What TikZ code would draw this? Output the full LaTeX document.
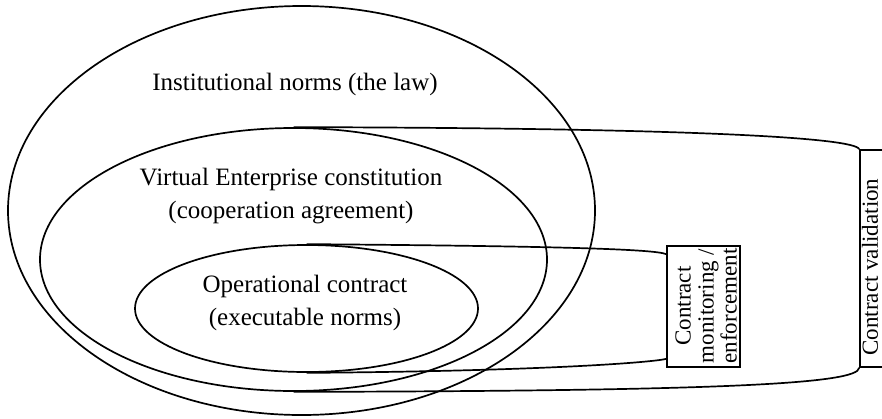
\documentclass[tikz,border=0pt]{standalone}
\usepackage{fontspec}
\setmainfont{Liberation Serif}
\usetikzlibrary{shapes.geometric}

\begin{document}
\begin{tikzpicture}[x=1pt, y=-1pt,
  line width=1.7pt,
  oval/.style={draw, ellipse, inner sep=0pt},
  txt/.style={align=center, inner sep=0pt, font=\fontsize{25}{33}\selectfont},
  vtxt/.style={align=center, inner sep=0pt, rotate=90, font=\fontsize{23}{23}\selectfont},
  box/.style={draw, inner sep=0pt}
]
\useasboundingbox (0,0) rectangle (882,418);

% Nested ellipses
\node[oval, minimum width=587pt, minimum height=409pt] (law) at (301.5,210.5) {};
\node[oval, minimum width=507pt, minimum height=263pt] (ve) at (293.5,259.5) {};
\node[oval, minimum width=343pt, minimum height=127pt] (oc) at (306.5,308.5) {};

% Ellipse texts
\node[txt] (lawtxt) at (295,84) {Institutional norms (the law)};
\node[txt] (vetxt) at (291,196) {Virtual Enterprise constitution\\(cooperation agreement)};
\node[txt] (octxt) at (305,303) {Operational contract\\(executable norms)};

% Monitoring box
\node[box, minimum width=73pt, minimum height=121pt] (mon) at (703.5,306.5) {};
\node[vtxt] (montxt) at (706,306) {Contract\\monitoring /\\enforcement};

% Validation box (cut by the page edge)
\node[box, minimum width=45pt, minimum height=217pt] (val) at (882.5,258.5) {};
\node[vtxt] (valtxt) at (870,267) {Contract validation};

% Connectors
\draw (ve.north) .. controls (700,128) and (855,138) .. (val.north west);
\draw (ve.south) .. controls (720,391) and (858,384) .. (val.south west);
\draw (oc.north) .. controls (550,246) and (655,249) .. ([yshift=-9pt]mon.north west);
\draw (oc.south) .. controls (550,371) and (655,362) .. ([yshift=9pt]mon.south west);
\end{tikzpicture}
\end{document}
